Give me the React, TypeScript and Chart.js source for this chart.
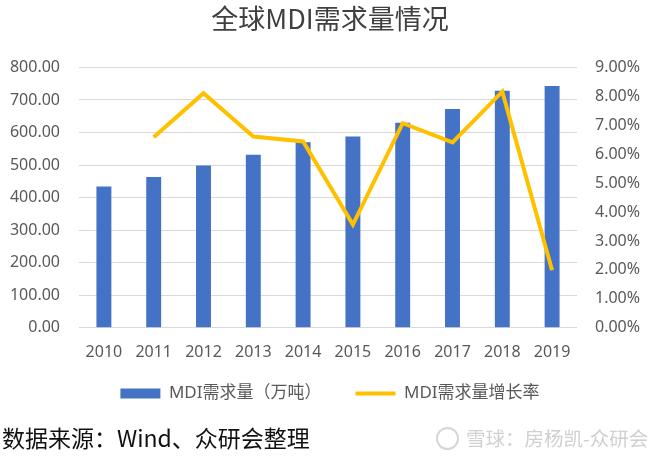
import React, { useEffect, useRef } from "react";
import { Chart, registerables } from "chart.js";

Chart.register(...registerables);

const categories = ["2010", "2011", "2012", "2013", "2014", "2015", "2016", "2017", "2018", "2019"];
const demand = [434, 463, 499, 532, 570, 588, 630, 672, 728, 743];
const growth: (number | null)[] = [null, 6.59, 8.11, 6.61, 6.44, 3.57, 7.07, 6.41, 8.16, 1.99];
const leftMax = 800;
const leftStep = 100;
const rightMax = 9;
const rightStep = 1;
const titleText = "全球MDI需求量情况";
const barLabel = "MDI需求量（万吨）";
const lineLabel = "MDI需求量增长率";
const sourceText = "数据来源：Wind、众研会整理";
const watermarkText = "雪球：房杨凯-众研会";

const BLUE = "#4472C4";
const GOLD = "#FFC000";
const TICK = "#595959";
const FONT = '"Noto Sans", "Noto Sans CJK SC", sans-serif';

// moves the legend up so that a wide item gap does not push the plot upward
const legendShift = {
  id: "legendShift",
  afterLayout(chart: any) {
    const lg = chart.legend;
    if (lg) {
      lg.top -= 18;
      lg.bottom -= 18;
    }
  },
};

export default function App() {
  const ref = useRef<HTMLCanvasElement | null>(null);

  useEffect(() => {
    if (!ref.current) return;
    const chart = new Chart(ref.current, {
      type: "bar",
      data: {
        labels: categories,
        datasets: [
          {
            type: "line",
            label: lineLabel,
            data: growth,
            yAxisID: "y1",
            borderColor: GOLD,
            backgroundColor: GOLD,
            borderWidth: 4,
            pointRadius: 0,
            tension: 0,
            order: 0,
          } as any,
          {
            type: "bar",
            label: barLabel,
            data: demand,
            yAxisID: "y",
            backgroundColor: BLUE,
            barPercentage: 0.3,
            categoryPercentage: 1,
            order: 1,
          },
        ],
      },
      options: {
        responsive: false,
        animation: false,
        layout: { padding: { left: 0, right: 0, top: 0, bottom: 0 } },
        plugins: {
          title: {
            display: true,
            text: titleText,
            color: "#404040",
            font: { family: '"Noto Sans CJK SC", sans-serif', size: 27, weight: "normal" },
            padding: { top: 3, bottom: 32 },
          },
          legend: {
            display: true,
            position: "bottom",
            labels: {
              usePointStyle: true,
              pointStyleWidth: 40,
              boxHeight: 10,
              padding: 34,
              color: TICK,
              font: { family: FONT, size: 17 },
              generateLabels: () => [
                {
                  text: barLabel,
                  pointStyle: "rect",
                  fillStyle: BLUE,
                  strokeStyle: BLUE,
                  lineWidth: 0,
                  datasetIndex: 1,
                  fontColor: TICK,
                } as any,
                {
                  text: lineLabel,
                  pointStyle: "line",
                  fillStyle: GOLD,
                  strokeStyle: GOLD,
                  lineWidth: 4,
                  datasetIndex: 0,
                  fontColor: TICK,
                } as any,
              ],
            },
          },
          tooltip: { enabled: false },
        },
        scales: {
          x: {
            offset: true,
            grid: { display: false },
            border: { display: false },
            ticks: { color: TICK, font: { family: FONT, size: 16 }, padding: 7 },
          },
          y: {
            position: "left",
            min: 0,
            max: leftMax,
            grid: { color: "#d9d9d9", drawTicks: false, lineWidth: 1 },
            border: { display: false },
            ticks: {
              stepSize: leftStep,
              color: TICK,
              padding: 19,
              font: { family: FONT, size: 16 },
              callback: (v: any) => Number(v).toFixed(2),
            },
            afterFit: (s: any) => {
              s.width = 79;
            },
          },
          y1: {
            position: "right",
            min: 0,
            max: rightMax,
            grid: { display: false, drawTicks: false },
            border: { display: false },
            ticks: {
              stepSize: rightStep,
              color: TICK,
              padding: 18,
              font: { family: FONT, size: 16 },
              callback: (v: any) => Number(v).toFixed(2) + "%",
            },
            afterFit: (s: any) => {
              s.width = 83;
            },
          },
        },
      },
      plugins: [legendShift],
    });
    return () => chart.destroy();
  }, []);

  return (
    <div style={{ position: "fixed", left: 0, top: 0, width: 660, height: 459, background: "#fff", overflow: "hidden" }}>
      <canvas ref={ref} width={660} height={430} style={{ position: "absolute", left: 0, top: 0 }} />
      <div
        style={{
          position: "absolute",
          left: 2,
          top: 422,
          fontFamily: '"Noto Sans CJK SC", sans-serif',
          fontSize: 23,
          color: "#111",
          whiteSpace: "nowrap",
          lineHeight: "30px",
        }}
      >
        {sourceText}
      </div>
      <div
        style={{
          position: "absolute",
          left: 436,
          top: 427,
          width: 19,
          height: 19,
          borderRadius: "50%",
          border: "2px solid #d6d6d6",
        }}
      />
      <div
        style={{
          position: "absolute",
          left: 466,
          top: 423,
          fontFamily: '"Noto Sans CJK SC", sans-serif',
          fontSize: 19.5,
          color: "#d0d0d0",
          whiteSpace: "nowrap",
          lineHeight: "30px",
        }}
      >
        {watermarkText}
      </div>
    </div>
  );
}
